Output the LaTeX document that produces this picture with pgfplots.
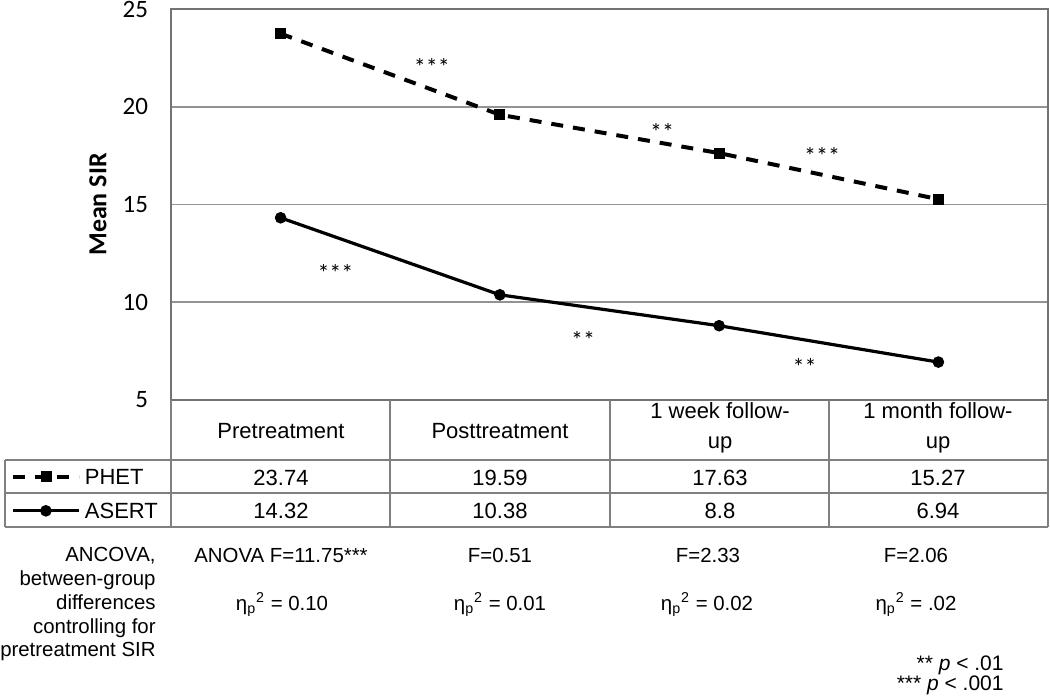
\documentclass[border=0pt]{standalone}
\usepackage{fontspec}
\setmainfont{Liberation Sans}
\newfontfamily\calfont{Carlito}
\usepackage{pgfplots}
\pgfplotsset{compat=1.18}
\begin{document}
\begin{tikzpicture}
\path[use as bounding box] (0,0) rectangle (525pt,349pt);
\begin{axis}[
 scale only axis, width=438.5pt, height=195.5pt,
 at={(85.5pt,149pt)}, anchor=south west,
 xmin=0.5, xmax=4.5, ymin=5, ymax=25,
 xtick=\empty, ytick={5,10,15,20,25},
 ymajorgrids, grid style={color=gray!85, line width=0.8pt},
 axis line style={color=gray!90!black, line width=0.9pt},
 major tick length=0pt,
 /pgf/number format/assume math mode=true,
 yticklabel style={font=\calfont\fontsize{12.5}{14}\selectfont, xshift=-8pt},
 ylabel={Mean SIR},
 ylabel style={font=\calfont\bfseries\fontsize{13}{15}\selectfont, at={(axis description cs:-0.0832,0.5)}, anchor=center},
 clip=false,
 legend style={draw=none, fill=none, inner sep=0pt, row sep=9pt, column sep=2pt,
   font=\fontsize{11}{13}\selectfont,
   nodes={inner sep=0pt, text height=8pt, text depth=0pt},
   at={(axis description cs:-0.183,-0.175)}, anchor=north west},
 legend cell align=left,
 legend image code/.code={\draw[mark repeat=2,mark phase=2] plot coordinates {(0pt,0pt)(16.5pt,0pt)(33pt,0pt)};},
]
\addplot[black, line width=2pt, dash pattern=on 6pt off 5pt, mark=square*, mark size=2.5pt, mark options={solid, line width=0.4pt}]
 coordinates {(1,23.74)(2,19.59)(3,17.63)(4,15.27)};
\addlegendentry{PHET}
\addplot[black, line width=1.6pt, mark=*, mark size=2.7pt, mark options={line width=0.4pt}]
 coordinates {(1,14.32)(2,10.38)(3,8.8)(4,6.94)};
\addlegendentry{ASERT}
\begin{scope}[every node/.style={font=\calfont\fontsize{12}{14}\selectfont, yshift=-2.5pt}]
\node at (axis cs:1.69,22.29) {***};
\node at (axis cs:2.74,18.96) {**};
\node at (axis cs:3.47,17.74) {***};
\node at (axis cs:1.25,11.75) {***};
\node at (axis cs:2.38,8.32) {**};
\node at (axis cs:3.39,6.94) {**};
\end{scope}
\end{axis}
\begin{scope}[x=0.5pt,y=-0.5pt,shift={(0pt,349pt)}]
\draw[gray, line width=0.75pt] (5,460) -- (1048,460) (5,493) -- (1048,493) (5,527) -- (1048,527) (5,460) -- (5,527);
\foreach \x in {171,390,610,829,1048} \draw[gray, line width=0.75pt] (\x,400) -- (\x,527);
\begin{scope}[every node/.style={font=\fontsize{11}{13}\selectfont, inner sep=0pt, anchor=base}]
\node at (281,438) {Pretreatment};
\node at (500,438) {Posttreatment};
\node at (720,418) {1 week follow-};
\node at (720,448) {up};
\node at (938,418) {1 month follow-};
\node at (938,448) {up};
\node at (281,485) {23.74};
\node at (500,485) {19.59};
\node at (720,485) {17.63};
\node at (938,485) {15.27};
\node at (281,518) {14.32};
\node at (500,518) {10.38};
\node at (720,518) {8.8};
\node at (938,518) {6.94};
\end{scope}
\begin{scope}[every node/.style={font=\fontsize{10.2}{11.9}\selectfont, inner sep=0pt, anchor=base}]
\node[align=right, anchor=north east] at (156,547) {ANCOVA,\\between-group\\differences\\controlling for\\pretreatment SIR};
\node at (281,562) {ANOVA F=11.75***};
\node at (500,562) {F=0.51};
\node at (708,562) {F=2.33};
\node at (916,562) {F=2.06};
\node at (282,610) {η\textsubscript{p}\textsuperscript{2} = 0.10};
\node at (500,610) {η\textsubscript{p}\textsuperscript{2} = 0.01};
\node at (707,610) {η\textsubscript{p}\textsuperscript{2} = 0.02};
\node at (916,610) {η\textsubscript{p}\textsuperscript{2} = .02};
\node[anchor=base east, font=\fontsize{10.5}{12}\selectfont] at (1004,670) {** \textit{p} < .01};
\node[anchor=base east, font=\fontsize{10.5}{12}\selectfont] at (1004,690) {*** \textit{p} < .001};
\end{scope}
\end{scope}
\end{tikzpicture}
\end{document}
